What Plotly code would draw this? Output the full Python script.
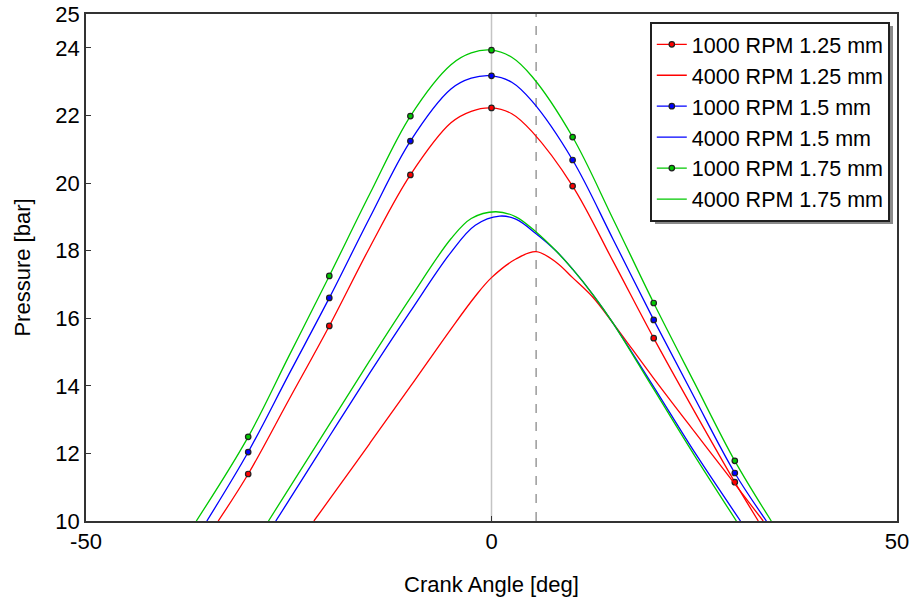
import plotly.graph_objects as go

# ---------------- data ----------------
# 1000 RPM curves (markers every 10 deg)
ca_1000_125 = [-33.7, -30, -25, -20, -15, -10, -5, -2.5, 0, 2.5, 5, 10, 15, 20, 25, 30, 32.9]
p_1000_125 = [10.0, 11.39, 13.58, 15.77, 18.1, 20.24, 21.78, 22.12, 22.22, 22.05, 21.52, 19.91, 17.68, 15.41, 13.25, 11.15, 10.0]

ca_1000_15 = [-35.1, -30, -25, -20, -15, -10, -5, -2.5, 0, 2.5, 5, 10, 15, 20, 25, 30, 33.9]
p_1000_15 = [10.0, 12.04, 14.33, 16.60, 18.98, 21.24, 22.78, 23.1, 23.17, 22.98, 22.42, 20.68, 18.33, 15.95, 13.66, 11.42, 10.0]

ca_1000_175 = [-36.4, -30, -25, -20, -15, -10, -5, -2.5, 0, 2.5, 5, 10, 15, 20, 25, 30, 34.5]
p_1000_175 = [10.0, 12.49, 14.87, 17.25, 19.68, 21.98, 23.5, 23.85, 23.93, 23.72, 23.15, 21.36, 18.93, 16.45, 14.1, 11.78, 10.0]

# 4000 RPM curves
ca_4000_125 = [-21.9, -20, -15, -10, -5, -2, 0, 3, 5.5, 8, 10, 12.5, 15, 20, 25, 30, 33.5]
p_4000_125 = [10.0, 10.63, 12.3, 13.98, 15.68, 16.65, 17.2, 17.75, 17.97, 17.65, 17.2, 16.62, 15.85, 14.22, 12.65, 11.1, 10.0]

ca_4000_15 = [-26.6, -25, -20, -15, -10, -5, -2, 1, 3, 5.5, 8, 10, 12.5, 15, 20, 25, 30.7]
p_4000_15 = [10.0, 10.6, 12.5, 14.38, 16.2, 17.95, 18.75, 19.02, 18.93, 18.5, 17.98, 17.45, 16.7, 15.85, 13.97, 12.05, 10.0]

ca_4000_175 = [-27.5, -25, -20, -15, -10, -5, -2.5, 0.5, 3, 5.5, 8, 10, 12.5, 15, 20, 25, 30.2]
p_4000_175 = [10.0, 10.95, 12.85, 14.75, 16.6, 18.35, 18.95, 19.15, 19.0, 18.55, 17.98, 17.45, 16.7, 15.85, 13.9, 11.95, 10.0]

marker_angles = [-30, -20, -10, 0, 10, 20, 30]
tdc_angle = 0
peak_angle_4000_125 = 5.5

x_ticks = [-50, 0, 50]
x_ticktext = ["-50", "0", "50"]
y_ticks = [10, 12, 14, 16, 18, 20, 22, 24, 25]

RED, BLUE, GREEN = "#ff0000", "#0000ff", "#00c800"
FONT = "Liberation Sans, Arial, sans-serif"

series = [
    ("1000 RPM 1.25 mm", ca_1000_125, p_1000_125, RED, True),
    ("4000 RPM 1.25 mm", ca_4000_125, p_4000_125, RED, False),
    ("1000 RPM 1.5 mm", ca_1000_15, p_1000_15, BLUE, True),
    ("4000 RPM 1.5 mm", ca_4000_15, p_4000_15, BLUE, False),
    ("1000 RPM 1.75 mm", ca_1000_175, p_1000_175, GREEN, True),
    ("4000 RPM 1.75 mm", ca_4000_175, p_4000_175, GREEN, False),
]

fig = go.Figure()
for name, xs, ys, col, with_markers in series:
    fig.add_trace(go.Scatter(
        x=xs, y=ys, mode="lines", name=name, legendgroup=name,
        showlegend=not with_markers,
        line=dict(color=col, width=1.3, shape="spline", smoothing=1.0),
        hoverinfo="skip"))
    if with_markers:
        mx = [a for a in xs if a in marker_angles]
        my = [ys[xs.index(a)] for a in mx]
        fig.add_trace(go.Scatter(
            x=mx, y=my, mode="markers", name=name, legendgroup=name,
            showlegend=False,
            marker=dict(size=5.5, color=col, line=dict(color="#202020", width=1.2)),
            hoverinfo="skip"))
        # legend entry (line + marker)
        fig.add_trace(go.Scatter(
            x=[None], y=[None], mode="lines+markers", name=name, legendgroup=name,
            line=dict(color=col, width=1.3),
            marker=dict(size=5.5, color=col, line=dict(color="#202020", width=1.2))))

fig.add_vline(x=tdc_angle, line=dict(color="#c4c4c4", width=1.5), layer="below")
fig.add_vline(x=peak_angle_4000_125, line=dict(color="#808080", width=1.2, dash="dash"), layer="below")

# legend shadow
L, T, R, B = 86, 14, 897, 521
def px(xp):
    return (xp - L) / (R - L)
def py(yp):
    return 1 - (yp - T) / (B - T)
fig.add_shape(type="rect", xref="paper", yref="paper",
              x0=px(655), x1=px(893), y0=py(224), y1=py(26),
              fillcolor="#8a8a8a", line=dict(width=0), layer="above")

fig.update_layout(
    width=912, height=603,
    margin=dict(l=86, r=15, t=14, b=82),
    paper_bgcolor="white", plot_bgcolor="white",
    font=dict(family=FONT, color="black", size=21),
    showlegend=True,
    legend=dict(x=px(890), y=py(22), xanchor="right", yanchor="top",
                bgcolor="white", bordercolor="#202020", borderwidth=1.8,
                font=dict(family=FONT, size=21.5, color="black"),
                itemwidth=30, tracegroupgap=0, traceorder="normal"),
    xaxis=dict(range=[-50, 50], tickvals=x_ticks, ticktext=x_ticktext,
               ticks="inside", ticklen=5, automargin=False,
               tickcolor="#333333", showline=True, linecolor="#333333", linewidth=1.5,
               mirror=True, showgrid=False, zeroline=False,
               tickfont=dict(size=22),
               title=dict(text="Crank Angle [deg]", font=dict(size=22), standoff=23)),
    yaxis=dict(range=[10, 25], tickvals=y_ticks, ticks="inside", ticklen=5,
               automargin=False,
               tickcolor="#333333", showline=True, linecolor="#333333", linewidth=1.5,
               mirror=True, showgrid=False, zeroline=False,
               tickfont=dict(size=22),
               title=dict(text="Pressure [bar]", font=dict(size=22), standoff=19)),
)

fig.write_html("out.html")
